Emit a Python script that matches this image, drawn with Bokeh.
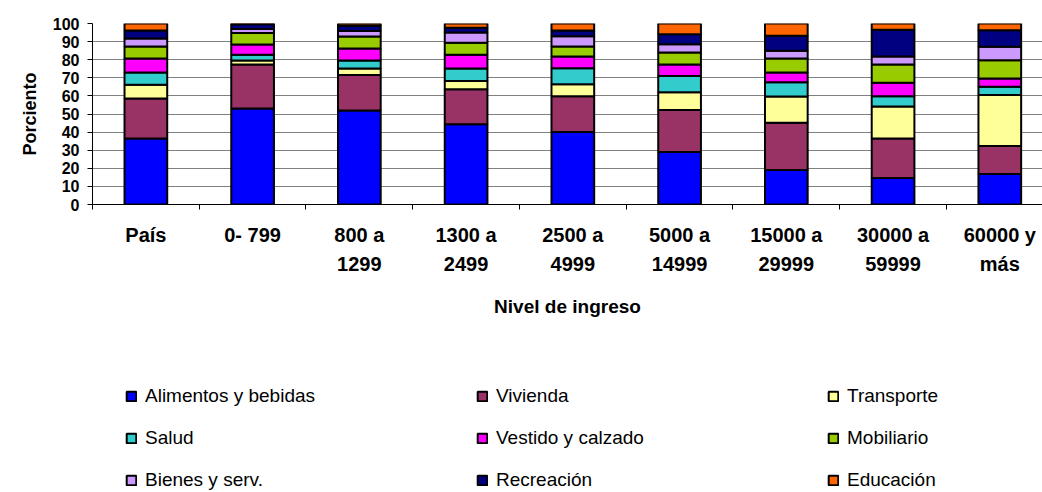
from bokeh.plotting import figure
from bokeh.layouts import column
from bokeh.models import (ColumnDataSource, Range1d, FixedTicker, Legend, LegendItem)
from bokeh.embed import file_html
from bokeh.resources import INLINE

categories = ["País", "0- 799", "800 a\n1299", "1300 a\n2499", "2500 a\n4999",
              "5000 a\n14999", "15000 a\n29999", "30000 a\n59999", "60000 y\nmás"]

series = ["Alimentos y bebidas", "Vivienda", "Transporte", "Salud",
          "Vestido y calzado", "Mobiliario", "Bienes y serv.", "Recreación", "Educación"]

alimentos = [36.5, 53.0, 52.0, 44.3, 40.0, 29.0, 19.0, 14.6, 16.8]
vivienda = [22.0, 24.3, 19.6, 19.4, 19.8, 23.2, 26.2, 21.9, 15.5]
transporte = [7.7, 2.2, 3.5, 4.6, 6.6, 9.8, 14.4, 17.7, 28.2]
salud = [6.7, 3.2, 4.4, 6.8, 8.9, 9.0, 7.9, 5.6, 4.6]
vestido = [7.7, 5.7, 6.7, 7.6, 6.4, 6.3, 5.4, 7.5, 4.5]
mobiliario = [6.7, 6.4, 6.6, 6.6, 5.6, 6.7, 7.7, 10.0, 10.1]
bienes = [4.4, 2.1, 3.1, 5.7, 5.7, 4.6, 4.4, 4.4, 7.4]
recreacion = [4.4, 2.7, 2.8, 2.6, 3.1, 5.5, 8.2, 14.8, 9.2]
educacion = [3.9, 0.4, 1.3, 2.4, 3.9, 5.9, 6.8, 3.5, 3.7]

colors = ["#0000FF", "#993366", "#FFFF99", "#33CCCC", "#FF00FF",
          "#99CC00", "#CC99FF", "#000080", "#FF6600"]

y_ticks = [0, 10, 20, 30, 40, 50, 60, 70, 80, 90, 100]

xpos = [i + 0.5 for i in range(len(categories))]
keys = ["s%d" % i for i in range(len(series))]
data = {"x": xpos}
for k, vals in zip(keys, [alimentos, vivienda, transporte, salud, vestido,
                          mobiliario, bienes, recreacion, educacion]):
    data[k] = vals
source = ColumnDataSource(data)

p = figure(width=1042, height=331, output_backend="svg", toolbar_location=None,
           x_range=Range1d(0, 8.9), y_range=Range1d(0, 100),
           min_border_left=92, min_border_right=0, min_border_top=23,
           min_border_bottom=127)
p.outline_line_color = None

renderers = p.vbar_stack(keys, x="x", width=0.4, color=colors, line_color="black",
                         line_width=2, source=source)

# x axis
p.xaxis.ticker = FixedTicker(ticks=xpos, minor_ticks=list(range(len(categories) + 1)))
p.xaxis.major_label_overrides = {x: c for x, c in zip(xpos, categories)}
p.xaxis.major_tick_line_color = None
p.xaxis.major_tick_out = 0
p.xaxis.major_tick_in = 0
p.xaxis.minor_tick_out = 5
p.xaxis.minor_tick_in = 0
p.xaxis.minor_tick_line_color = "black"
p.xaxis.axis_line_color = "black"
p.xaxis.major_label_text_font = "Liberation Sans"
p.xaxis.major_label_text_font_style = "bold"
p.xaxis.major_label_text_font_size = "20px"
p.xaxis.major_label_text_color = "black"
p.xaxis.major_label_text_line_height = 1.35
p.xaxis.major_label_standoff = 14
p.xaxis.axis_label = "Nivel de ingreso"
p.xaxis.axis_label_text_font = "Liberation Sans"
p.xaxis.axis_label_text_font_style = "bold"
p.xaxis.axis_label_text_font_size = "19px"
p.xaxis.axis_label_text_color = "black"
p.xaxis.axis_label_standoff = 18

# y axis
p.yaxis.ticker = FixedTicker(ticks=y_ticks)
p.yaxis.minor_tick_line_color = None
p.yaxis.major_tick_out = 5
p.yaxis.major_tick_in = 0
p.yaxis.axis_line_color = "black"
p.yaxis.major_tick_line_color = "black"
p.yaxis.major_label_text_font = "Liberation Sans"
p.yaxis.major_label_text_font_style = "bold"
p.yaxis.major_label_text_font_size = "16px"
p.yaxis.major_label_text_color = "black"
p.yaxis.major_label_standoff = 8
p.yaxis.axis_label = "Porciento"
p.yaxis.axis_label_text_font = "Liberation Sans"
p.yaxis.axis_label_text_font_style = "bold"
p.yaxis.axis_label_text_font_size = "18px"
p.yaxis.axis_label_text_color = "black"
p.yaxis.axis_label_standoff = 10

p.xgrid.grid_line_color = None
p.ygrid.ticker = FixedTicker(ticks=y_ticks)
p.ygrid.grid_line_color = "#808080"
p.ygrid.grid_line_width = 1

# legend panel (separate figure below the chart; its swatch renderers are hidden)
lp = figure(width=1042, height=161, output_backend="svg", toolbar_location=None,
            x_range=Range1d(0, 8.9), y_range=Range1d(0, 100),
            x_axis_location=None, y_axis_location=None,
            min_border_left=0, min_border_right=0, min_border_top=0,
            min_border_bottom=0)
lp.outline_line_color = None
lp.grid.visible = False
swatches = lp.vbar_stack(keys, x="x", width=0.4, color=colors, line_color="black",
                         line_width=2, source=source)
for r in swatches:
    r.visible = False
items = [LegendItem(label=s, renderers=[r]) for s, r in zip(series, swatches)]
legend = Legend(items=items, ncols=3, orientation="horizontal",
                location=(33, 1), padding=0, margin=0, spacing=20,
                glyph_width=12, glyph_height=12, label_standoff=8,
                label_width=311, label_height=21,
                label_text_font="Liberation Sans", label_text_font_size="19px",
                label_text_color="black", border_line_color=None,
                background_fill_alpha=0, inactive_fill_alpha=0)
lp.add_layout(legend, "center")

layout = column(p, lp, spacing=0)
open("out.html", "w").write(file_html(layout, INLINE))
